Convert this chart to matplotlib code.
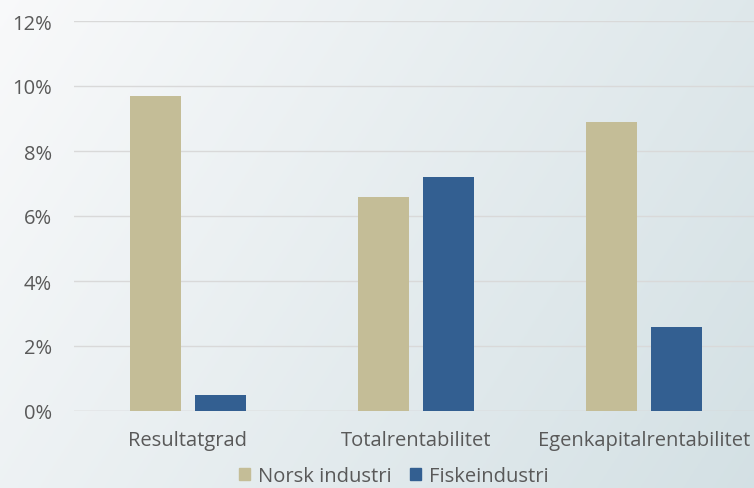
import numpy as np
import matplotlib
matplotlib.use("Agg")
import matplotlib.pyplot as plt
from matplotlib.ticker import FuncFormatter
from matplotlib.patches import Patch

plt.rcParams['font.family'] = ['Open Sans', 'DejaVu Sans']

categories = ['Resultatgrad', 'Totalrentabilitet', 'Egenkapitalrentabilitet']
norsk = [9.7, 6.6, 8.9]
fiske = [0.5, 7.2, 2.6]
series_names = ['Norsk industri', 'Fiskeindustri']
colors = ['#c4bd97', '#335f91']
text_col = '#595959'

fig = plt.figure(figsize=(7.54, 4.89), dpi=100)

# background gradient, light top-left to blue-grey right side
bg = fig.add_axes([0, 0, 1, 1], zorder=-10)
xx, yy = np.meshgrid(np.linspace(0, 1, 200), np.linspace(0, 1, 200))
t = np.clip(0.7 * xx + 0.3 * yy, 0, 1)
c0 = np.array([0.975, 0.978, 0.982])
c1 = np.array([0.83, 0.88, 0.895])
img = c0[None, None, :] * (1 - t[..., None]) + c1[None, None, :] * t[..., None]
bg.imshow(img, aspect='auto', extent=[0, 1, 0, 1], origin='upper')
bg.axis('off')

ax = fig.add_axes([74 / 754, 1 - 412 / 489, 684 / 754, 390 / 489])
ax.patch.set_alpha(0)

x = np.arange(len(categories))
w = 0.224
off = 0.1425
ax.bar(x - off, norsk, w, color=colors[0], zorder=3)
ax.bar(x + off, fiske, w, color=colors[1], zorder=3)

ax.set_xlim(-0.5, len(categories) - 0.5)
ax.set_ylim(0, 12)
ax.set_yticks(range(0, 13, 2))
ax.yaxis.set_major_formatter(FuncFormatter(lambda v, p: '%d%%' % v))
ax.grid(axis='y', color='#d9d9d9', linewidth=1, zorder=0)
for s in ax.spines.values():
    s.set_visible(False)
ax.axhline(0, color='#d9d9d9', linewidth=1, zorder=1)
ax.set_xticks(x)
ax.set_xticklabels(categories)
ax.tick_params(length=0, labelsize=14.5, colors=text_col)
ax.tick_params(axis='x', pad=14)
ax.tick_params(axis='y', pad=16)

handles = [Patch(color=c) for c in colors]
fig.legend(handles, series_names, loc='center', bbox_to_anchor=(0.522, 0.024),
           ncol=2, frameon=False, fontsize=14.5, labelcolor=text_col,
           handlelength=0.55, handleheight=0.55, handletextpad=0.4, columnspacing=0.9,
           borderpad=0.1)

fig.savefig('out.png', dpi=100)
